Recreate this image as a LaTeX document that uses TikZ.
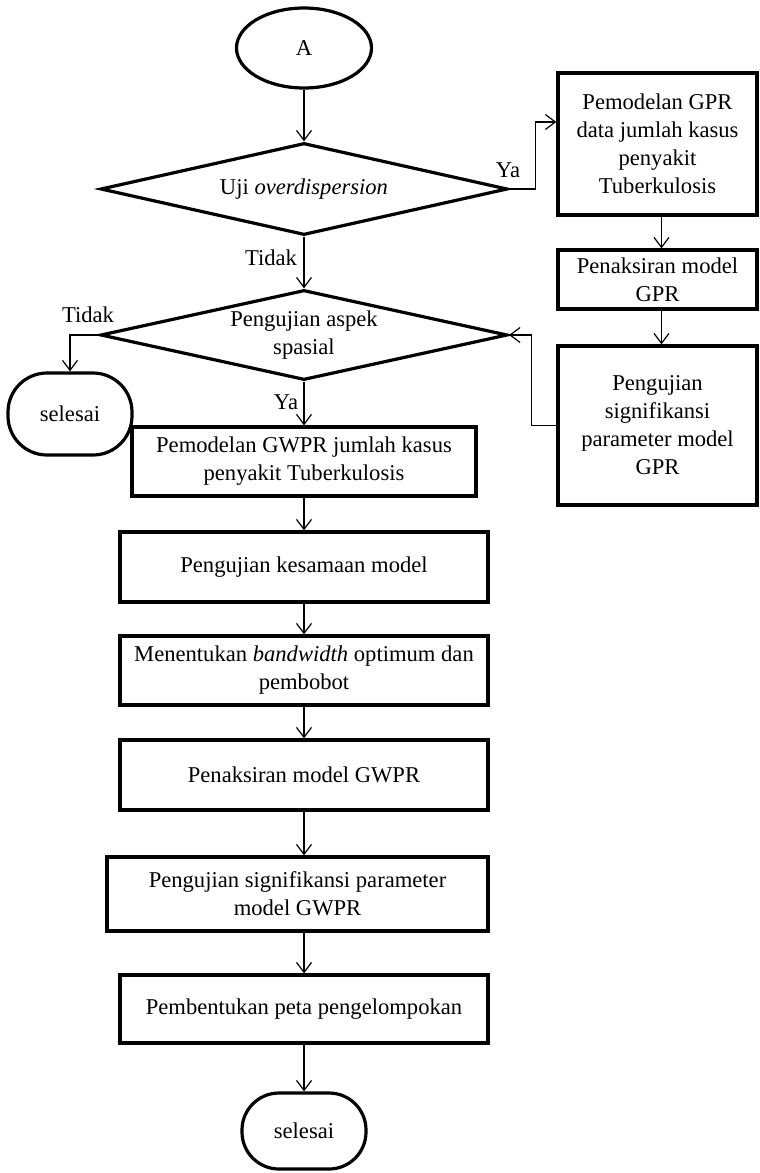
\documentclass[tikz,border=0pt]{standalone}
\usepackage{fontspec}
\setmainfont{Liberation Serif}
\usetikzlibrary{shapes.geometric,arrows.meta}
\begin{document}
\begin{tikzpicture}[x=1pt,y=-1pt,
  every node/.style={font=\fontsize{22.6}{28}\selectfont, align=center, inner sep=0pt},
  box/.style={draw, line width=3.2pt, rectangle},
  dec/.style={draw, line width=3.2pt, shape=diamond, aspect=4.4},
  term/.style={draw, line width=3.2pt, rectangle},
  arr/.style={line width=1.2pt, -{Straight Barb[length=10pt,width=15pt]}}]
\fill[white] (0,0) rectangle (760,1173);
\useasboundingbox (0,0) rectangle (760,1173);

% main column
\node[draw, line width=3.2pt, ellipse, minimum width=135pt, minimum height=80pt] (A) at (304,48) {A};
\node[dec, minimum width=407pt, minimum height=92pt] (d1) at (304,189) {Uji \textit{overdispersion}};
\node[dec, minimum width=407pt, minimum height=90pt] (d2) at (304,335) {Pengujian aspek\\spasial};
\node[term, rounded corners=39pt, minimum width=124pt, minimum height=82pt] (s1) at (70,414) {selesai};
\node[box, minimum width=344pt, minimum height=69pt] (b1) at (304,461.5) {Pemodelan GWPR jumlah kasus\\penyakit Tuberkulosis};
\node[box, minimum width=368pt, minimum height=70pt] (b2) at (304,567) {Pengujian kesamaan model};
\node[box, minimum width=368pt, minimum height=69pt] (b3) at (304,670.5) {Menentukan \textit{bandwidth} optimum dan\\pembobot};
\node[box, minimum width=368pt, minimum height=70pt] (b4) at (304,775) {Penaksiran model GWPR};
\node[box, minimum width=381pt, minimum height=74pt] (b5) at (297.5,894) {Pengujian signifikansi parameter\\model GWPR};
\node[box, minimum width=368pt, minimum height=68pt] (b6) at (304,1009) {Pembentukan peta pengelompokan};
\node[term, rounded corners=37pt, minimum width=124pt, minimum height=76pt] (s2) at (304,1131) {selesai};

% right column
\node[box, minimum width=199pt, minimum height=142pt] (r1) at (657.5,144) {Pemodelan GPR\\data jumlah kasus\\penyakit\\Tuberkulosis};
\node[box, minimum width=199pt, minimum height=59pt] (r2) at (657.5,279.5) {Penaksiran model\\GPR};
\node[box, minimum width=199pt, minimum height=159pt] (r3) at (657.5,425.5) {Pengujian\\signifikansi\\parameter model\\GPR};

% labels
\node (ya1) at (508,170) {Ya};
\node (td1) at (271,258) {Tidak};
\node (td2) at (88,315) {Tidak};
\node (ya2) at (286,402) {Ya};

% connectors
\draw[arr] (A.south) -- (A.south |- d1.north);
\draw[arr] (d1.south) -- (d2.north);
\draw[arr] (d1.east) -- ++(26,0) |- ([yshift=22pt]r1.west);
\draw[arr] (d2.west) -| (s1.north);
\draw[arr] (d2.south) -- (b1.north);
\draw[arr] ([xshift=4pt]r1.south) -- ([xshift=4pt]r2.north);
\draw[arr] ([xshift=4pt]r2.south) -- ([xshift=4pt]r3.north);
\draw[arr] (r3.west) -- ++(-25,0) |- (d2.east);
\draw[arr] (b1.south) -- (b2.north);
\draw[arr] (b2.south) -- (b3.north);
\draw[arr] (b3.south) -- (b4.north);
\draw[arr] (b4.south) -- (b4.south |- b5.north);
\draw[arr] (b6.north |- b5.south) -- (b6.north);
\draw[arr] (b6.south) -- (s2.north);
\end{tikzpicture}
\end{document}
